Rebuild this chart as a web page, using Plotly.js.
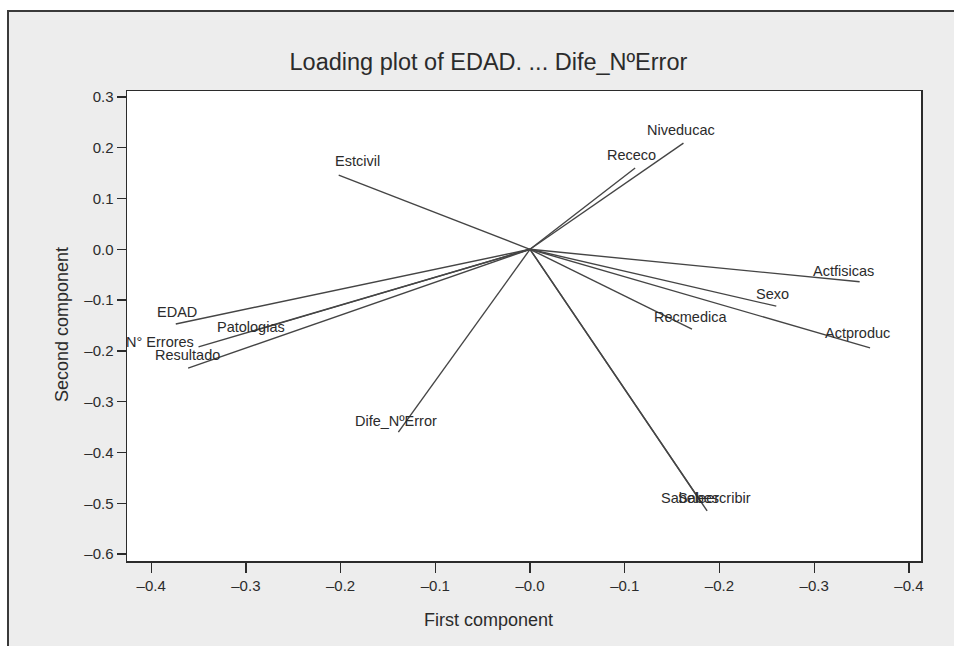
<!DOCTYPE html>
<html>
<head>
<meta charset="utf-8">
<script src="https://cdn.plot.ly/plotly-3.0.1.min.js"></script>
<style>
  html, body { margin: 0; padding: 0; background: #ffffff; }
  #frame {
    position: absolute; left: 7px; top: 10px; width: 947px; height: 636px;
    background: #ededed; border-top: 2px solid #3a3a3a; border-left: 2px solid #3a3a3a;
    box-sizing: border-box;
  }
  #chart { position: absolute; left: 0; top: 0; width: 954px; height: 646px; }
</style>
</head>
<body>
<div id="frame"></div>
<div id="chart"></div>
<script>
// Loadings of each variable on the first two principal components
const variables = ["EDAD", "Patologias", "N° Errores", "Resultado", "Estcivil", "Niveducac",
  "Receco", "Actfisicas", "Sexo", "Actproduc", "Recmedica", "Dife_NºError", "Sabeleer", "Sabescribir"];
const firstComponent  = [-0.374, -0.294, -0.350, -0.361, -0.202, 0.162,
  0.111, 0.348, 0.260, 0.359, 0.171, -0.139, 0.180, 0.187];
const secondComponent = [-0.147, -0.162, -0.192, -0.234, 0.146, 0.209,
  0.160, -0.064, -0.112, -0.194, -0.157, -0.360, -0.496, -0.515];

const xTickValues = [-0.4, -0.3, -0.2, -0.1, 0.0, 0.1, 0.2, 0.3, 0.4];
const xTickLabels = ["–0.4", "–0.3", "–0.2", "–0.1", "–0.0", "–0.1", "–0.2", "–0.3", "–0.4"];
const yTickValues = [0.3, 0.2, 0.1, 0.0, -0.1, -0.2, -0.3, -0.4, -0.5, -0.6];
const yTickLabels = ["0.3", "0.2", "0.1", "0.0", "–0.1", "–0.2", "–0.3", "–0.4", "–0.5", "–0.6"];

// Pixel nudges for the variable names so they sit next to their vector tips
const labelNudge = {
  "EDAD": [1, 12], "Patologias": [-1, 5], "N° Errores": [-39, 5], "Resultado": [-1, 13],
  "Estcivil": [19, 14], "Niveducac": [-2, 13], "Receco": [-4, 13], "Actfisicas": [-16, 11],
  "Sexo": [-4, 12], "Actproduc": [-13, 15], "Recmedica": [-1, 12], "Dife_NºError": [-2, 11],
  "Sabeleer": [-11, 3], "Sabescribir": [7, 13]
};

const font = "Liberation Sans, Arial, Helvetica, sans-serif";
const ink = "#2b2b2b";

// One segment from the origin to every loading, separated by gaps
const segX = [], segY = [];
variables.forEach((v, i) => {
  segX.push(0, firstComponent[i], null);
  segY.push(0, secondComponent[i], null);
});

const vectors = {
  type: "scatter", mode: "lines", x: segX, y: segY,
  line: { color: "#454545", width: 1.4 }, hoverinfo: "skip", showlegend: false
};

const names = variables.map((v, i) => ({
  x: firstComponent[i], y: secondComponent[i], xref: "x", yref: "y",
  text: v, showarrow: false, xanchor: "center", yanchor: "middle",
  xshift: labelNudge[v][0], yshift: labelNudge[v][1],
  font: { family: font, size: 14.5, color: ink }
}));

const layout = {
  width: 954, height: 646,
  paper_bgcolor: "rgba(0,0,0,0)", plot_bgcolor: "#ffffff",
  margin: { l: 127, r: 33, t: 91, b: 85 },
  showlegend: false,
  title: {
    text: "Loading plot of EDAD. ... Dife_NºError",
    font: { family: font, size: 23.5, color: ink },
    xref: "container", yref: "container", x: 0.512, xanchor: "center",
    y: 1 - 62 / 646, yanchor: "middle"
  },
  xaxis: {
    range: [-0.4255, 0.4128], tickvals: xTickValues, ticktext: xTickLabels,
    showgrid: false, zeroline: false, showline: true, mirror: true,
    linecolor: "#2b2b2b", linewidth: 1.5, ticks: "outside", ticklen: 10, tickwidth: 1.3,
    tickcolor: "#2b2b2b", tickfont: { family: font, size: 15, color: ink }
  },
  yaxis: {
    range: [-0.6136, 0.3116], tickvals: yTickValues, ticktext: yTickLabels,
    showgrid: false, zeroline: false, showline: true, mirror: true,
    linecolor: "#2b2b2b", linewidth: 1.5, ticks: "outside", ticklen: 9, tickwidth: 1.3,
    tickcolor: "#2b2b2b", tickfont: { family: font, size: 15, color: ink }
  },
  annotations: names.concat([
    { xref: "paper", yref: "paper", x: (488 - 127) / 794, y: -(620 - 561) / 470,
      text: "First component", showarrow: false, xanchor: "center", yanchor: "middle",
      font: { family: font, size: 18, color: ink } },
    { xref: "paper", yref: "paper", x: -(127 - 62) / 794, y: (561 - 325) / 470,
      text: "Second component", showarrow: false, textangle: -90,
      xanchor: "center", yanchor: "middle",
      font: { family: font, size: 18, color: ink } }
  ])
};

Plotly.newPlot("chart", [vectors], layout, { displayModeBar: false, staticPlot: true });
</script>
</body>
</html>
